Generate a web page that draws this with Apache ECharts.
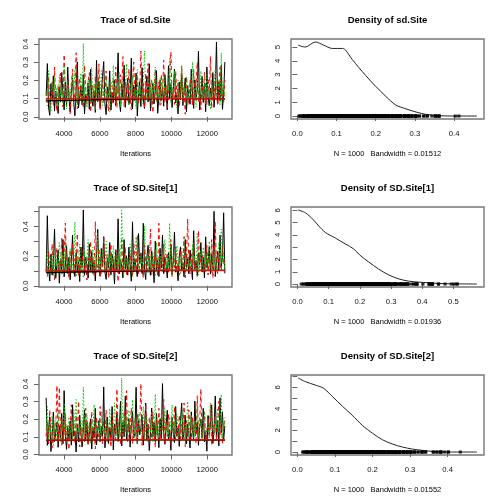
<!DOCTYPE html>
<html><head><meta charset="utf-8">
<script src="https://cdn.jsdelivr.net/npm/echarts@6/dist/echarts.min.js"></script>
<style>html,body{margin:0;padding:0;background:#fff}#c{width:504px;height:504px}</style>
</head><body><div id="c"></div>
<script>
// ---------- labels ----------
const traceTitles = ['Trace of sd.Site', 'Trace of SD.Site[1]', 'Trace of SD.Site[2]'];
const densTitles = ['Density of sd.Site', 'Density of SD.Site[1]', 'Density of SD.Site[2]'];
const densNotes = ['N = 1000   Bandwidth = 0.01512', 'N = 1000   Bandwidth = 0.01936', 'N = 1000   Bandwidth = 0.01552'];
const traceXName = 'Iterations';
const iterStart = 3000, iterStep = 67;
const traceXTicks = [4000, 6000, 8000, 10000, 12000];
const traceYTicks = [[0, 0.1, 0.2, 0.3, 0.4], [0, 0.1, 0.2, 0.3, 0.4, 0.5], [0, 0.1, 0.2, 0.3, 0.4]];
const traceYLabels = [[0, 0.1, 0.2, 0.3, 0.4], [0, 0.2, 0.4], [0, 0.1, 0.2, 0.3, 0.4]];
const densXTicks = [[0, 0.1, 0.2, 0.3, 0.4], [0, 0.1, 0.2, 0.3, 0.4, 0.5], [0, 0.1, 0.2, 0.3, 0.4]];
const densYTicks = [[0, 1, 2, 3, 4, 5], [0, 1, 2, 3, 4, 5, 6], [0, 1, 2, 3, 4, 5, 6, 7]];
const densYLabels = [[0, 1, 2, 3, 4, 5], [0, 1, 2, 3, 4, 5, 6], [0, 2, 4, 6]];

// ---------- chain samples ----------
const sdSite_chain1 = [.114,.293,.052,.008,.183,.091,.226,.031,.142,.069,.018,.163,.081,.244,.125,.038,.192,.057,.273,.104,.027,.131,.214,.077,.006,.152,.302,.049,.113,.171,.066,.233,.015,.122,.094,.186,.041,.262,.098,.058,.143,.024,.311,.083,.194,.047,.119,.221,.304,.072,.012,.164,.101,.253,.036,.134,.079,.203,.061,.148,.352,.088,.029,.181,.107,.284,.052,.139,.212,.068,.121,.323,.043,.174,.089,.241,.004,.128,.193,.056,.271,.097,.046,.153,.224,.082,.292,.033,.118,.184,.071,.142,.254,.019,.108,.202,.087,.161,.058,.232,.133,.038,.281,.103,.178,.051,.149,.263,.076,.121,.016,.191,.093,.243,.062,.139,.214,.027,.172,.108,.069,.262,.118,.046,.203,.091,.152,.361,.037,.131,.222,.079,.183,.028,.274,.112,.061,.158,.097,.243,.052,.141,.412,.073,.194,.086,.283,.041,.124,.302];
const sdSite_chain2 = [.083,.152,.224,.037,.121,.193,.062,.274,.103,.029,.172,.094,.241,.133,.054,.343,.112,.071,.203,.142,.017,.184,.262,.078,.131,.352,.043,.163,.214,.092,.124,.048,.283,.151,.067,.194,.243,.026,.113,.172,.061,.223,.134,.087,.291,.039,.152,.204,.076,.123,.252,.101,.031,.182,.143,.068,.212,.114,.273,.052,.161,.093,.232,.124,.331,.057,.192,.141,.082,.263,.112,.036,.171,.302,.094,.153,.221,.073,.132,.362,.104,.183,.048,.242,.121,.293,.081,.164,.203,.022,.143,.261,.089,.114,.192,.063,.233,.131,.312,.084,.171,.042,.123,.213,.358,.102,.154,.068,.251,.113,.182,.053,.134,.282,.091,.162,.014,.222,.121,.073,.204,.142,.058,.262,.111,.173,.301,.082,.133,.039,.193,.101,.244,.152,.068,.212,.123,.332,.047,.163,.092,.231,.134,.061,.182,.273,.114,.151,.083,.202];
const sdSite_chain3 = [.142,.061,.253,.102,.028,.183,.121,.214,.083,.162,.052,.233,.113,.174,.071,.284,.132,.043,.191,.104,.153,.082,.224,.121,.262,.063,.172,.094,.143,.241,.073,.403,.114,.162,.049,.203,.131,.082,.272,.101,.181,.038,.142,.223,.093,.124,.254,.061,.163,.112,.212,.084,.133,.027,.194,.151,.283,.103,.072,.173,.122,.243,.053,.141,.202,.092,.163,.292,.113,.064,.182,.131,.224,.081,.152,.044,.261,.123,.171,.102,.071,.204,.362,.143,.092,.233,.112,.161,.051,.193,.132,.274,.083,.152,.104,.213,.062,.173,.242,.121,.093,.182,.141,.322,.074,.163,.112,.252,.131,.048,.203,.101,.154,.283,.082,.172,.123,.221,.063,.142,.191,.093,.302,.114,.161,.052,.213,.134,.081,.252,.143,.102,.181,.073,.232,.121,.163,.039,.204,.113,.152,.263,.091,.132,.193,.062,.352,.124,.171,.103];

const SDSite1_chain1 = [.091,.473,.121,.032,.213,.072,.162,.382,.051,.143,.242,.018,.183,.102,.313,.061,.132,.271,.083,.192,.041,.153,.342,.112,.063,.224,.092,.171,.029,.262,.123,.512,.071,.193,.142,.052,.283,.101,.231,.084,.162,.033,.202,.381,.113,.064,.252,.131,.332,.093,.043,.182,.121,.292,.074,.213,.152,.012,.243,.103,.452,.081,.173,.132,.054,.312,.114,.203,.072,.261,.143,.031,.432,.092,.181,.123,.062,.353,.151,.222,.083,.422,.112,.043,.191,.273,.132,.071,.234,.162,.021,.302,.103,.172,.063,.253,.121,.342,.082,.193,.142,.053,.224,.111,.281,.074,.163,.362,.092,.131,.034,.202,.263,.104,.152,.061,.313,.123,.183,.082,.241,.134,.042,.372,.113,.171,.073,.223,.141,.292,.093,.192,.054,.331,.122,.163,.262,.081,.212,.114,.502,.063,.152,.233,.101,.342,.132,.191,.493,.084];
const SDSite1_chain2 = [.112,.063,.231,.152,.084,.283,.121,.042,.193,.252,.091,.172,.133,.322,.074,.213,.424,.102,.163,.051,.242,.123,.291,.082,.183,.141,.352,.063,.202,.113,.153,.272,.094,.171,.039,.223,.131,.302,.104,.192,.072,.433,.142,.113,.252,.061,.181,.124,.331,.093,.162,.212,.053,.132,.283,.101,.193,.084,.243,.141,.028,.203,.122,.312,.091,.173,.262,.071,.152,.112,.221,.134,.062,.292,.181,.103,.343,.082,.143,.212,.121,.052,.273,.163,.094,.231,.132,.383,.073,.182,.113,.252,.151,.064,.422,.102,.193,.131,.282,.083,.172,.223,.092,.141,.313,.061,.202,.123,.262,.104,.153,.072,.241,.183,.112,.332,.054,.191,.452,.132,.081,.213,.142,.293,.103,.162,.063,.372,.121,.184,.232,.091,.153,.114,.272,.073,.203,.131,.312,.052,.171,.432,.123,.082,.222,.151,.102,.263,.142,.193];
const SDSite1_chain3 = [.162,.243,.081,.132,.193,.112,.272,.063,.214,.141,.103,.292,.173,.072,.223,.134,.321,.092,.182,.121,.252,.083,.154,.113,.432,.062,.203,.142,.281,.101,.171,.052,.232,.133,.194,.312,.091,.163,.124,.262,.082,.213,.143,.352,.114,.181,.073,.242,.152,.103,.302,.131,.192,.061,.221,.122,.273,.161,.094,.203,.141,.252,.113,.511,.172,.083,.234,.132,.191,.102,.283,.153,.071,.212,.124,.332,.162,.093,.243,.142,.181,.112,.402,.134,.201,.082,.263,.151,.104,.222,.163,.064,.292,.121,.193,.143,.242,.091,.172,.313,.113,.202,.132,.423,.154,.073,.231,.182,.101,.272,.142,.191,.083,.253,.122,.321,.164,.103,.212,.131,.173,.092,.282,.141,.203,.114,.352,.072,.183,.234,.124,.262,.152,.091,.213,.133,.302,.171,.084,.192,.143,.241,.112,.181,.293,.122,.383,.161,.223,.102];

const SDSite2_chain1 = [.322,.052,.141,.213,.017,.102,.241,.073,.124,.182,.041,.163,.092,.232,.061,.362,.113,.029,.152,.083,.191,.053,.282,.104,.131,.014,.172,.071,.223,.122,.043,.142,.253,.081,.184,.062,.112,.202,.031,.153,.093,.262,.054,.133,.192,.072,.161,.103,.383,.038,.121,.213,.063,.152,.091,.272,.026,.173,.114,.232,.074,.143,.302,.048,.182,.101,.331,.082,.132,.203,.042,.162,.243,.093,.121,.381,.061,.193,.112,.151,.222,.053,.142,.292,.084,.171,.022,.123,.263,.102,.181,.071,.232,.134,.039,.203,.091,.402,.113,.058,.162,.251,.082,.141,.024,.212,.123,.068,.272,.103,.152,.046,.191,.292,.087,.132,.223,.061,.172,.114,.037,.242,.143,.082,.303,.121,.183,.052,.154,.201,.092,.262,.071,.131,.019,.221,.112,.172,.282,.063,.141,.332,.101,.193,.048,.321,.124,.242,.081,.162];
const SDSite2_chain2 = [.102,.183,.061,.252,.131,.038,.203,.092,.152,.392,.071,.381,.122,.053,.191,.113,.232,.082,.163,.027,.143,.282,.091,.172,.062,.221,.124,.302,.043,.151,.103,.192,.072,.262,.133,.051,.182,.114,.243,.084,.161,.032,.212,.123,.093,.272,.142,.061,.193,.101,.252,.073,.134,.181,.042,.223,.112,.162,.083,.372,.121,.202,.054,.153,.092,.241,.131,.362,.071,.184,.113,.263,.063,.142,.192,.081,.232,.124,.161,.402,.052,.173,.102,.283,.132,.074,.212,.153,.091,.242,.122,.041,.193,.111,.262,.082,.163,.134,.312,.063,.182,.103,.231,.143,.054,.202,.121,.272,.084,.152,.114,.223,.072,.171,.132,.292,.043,.191,.103,.253,.141,.082,.213,.124,.162,.061,.333,.112,.183,.371,.093,.152,.242,.073,.131,.203,.101,.282,.052,.172,.122,.232,.081,.163,.302,.113,.192,.064,.143,.212];
const SDSite2_chain3 = [.132,.273,.083,.172,.114,.221,.052,.153,.192,.091,.242,.123,.074,.203,.141,.292,.102,.162,.063,.213,.121,.182,.084,.253,.133,.312,.093,.151,.112,.194,.072,.382,.143,.101,.224,.122,.173,.061,.202,.134,.283,.092,.152,.113,.181,.073,.242,.131,.164,.103,.212,.124,.082,.262,.143,.171,.112,.293,.091,.154,.193,.071,.132,.434,.102,.223,.141,.182,.083,.252,.121,.163,.312,.094,.202,.133,.062,.231,.152,.113,.184,.272,.081,.142,.213,.104,.161,.122,.243,.073,.151,.342,.113,.192,.092,.134,.222,.171,.084,.262,.123,.162,.101,.213,.142,.282,.072,.183,.131,.232,.093,.152,.191,.114,.252,.083,.172,.143,.302,.102,.163,.222,.121,.071,.193,.132,.272,.103,.151,.201,.082,.174,.243,.112,.141,.182,.094,.292,.133,.162,.104,.212,.153,.262,.121,.181,.341,.092,.142,.193];

// ---------- smoothed (lowess) trend per chain ----------
const smoothIters = [3000, 5500, 8000, 10500, 12990];
const sdSite_smooth = [[.088, .093, .098, .100, .100], [.100, .101, .102, .100, .099], [.098, .100, .101, .101, .100]];
const SDSite1_smooth = [[.090, .095, .100, .103, .104], [.102, .104, .106, .105, .103], [.100, .103, .105, .106, .104]];
const SDSite2_smooth = [[.080, .082, .083, .083, .082], [.082, .083, .084, .084, .083], [.083, .084, .084, .083, .083]];

// ---------- density curves ----------
const sdSite_densX = [0.002, 0.02, 0.046, 0.067, 0.089, 0.115, 0.123, 0.14, 0.174, 0.2, 0.226, 0.251, 0.277, 0.303, 0.328, 0.362, 0.397, 0.458];
const sdSite_densY = [5.14, 5.0, 5.37, 5.14, 4.9, 4.9, 4.78, 4.1, 2.95, 2.15, 1.42, 0.8, 0.52, 0.29, 0.12, 0.03, 0.0, 0.0];
const SDSite1_densX = [0.002, 0.025, 0.052, 0.068, 0.089, 0.121, 0.153, 0.18, 0.2, 0.228, 0.26, 0.291, 0.323, 0.355, 0.387, 0.42, 0.45, 0.49, 0.575];
const SDSite1_densY = [6.03, 5.8, 5.2, 4.73, 4.2, 3.75, 3.27, 2.86, 2.35, 1.8, 1.22, 0.76, 0.43, 0.24, 0.16, 0.1, 0.05, 0.02, 0.0];
const SDSite2_densX = [0.002, 0.021, 0.048, 0.07, 0.093, 0.12, 0.146, 0.173, 0.2, 0.227, 0.254, 0.28, 0.307, 0.334, 0.36, 0.396, 0.478];
const SDSite2_densY = [6.86, 6.52, 6.2, 5.9, 5.15, 4.24, 3.41, 2.47, 1.74, 1.13, 0.73, 0.46, 0.27, 0.15, 0.06, 0.0, 0.0];

// ---------- assembly ----------
const traceChains = [[sdSite_chain1, sdSite_chain2, sdSite_chain3], [SDSite1_chain1, SDSite1_chain2, SDSite1_chain3], [SDSite2_chain1, SDSite2_chain2, SDSite2_chain3]];
const traceSmooth = [sdSite_smooth, SDSite1_smooth, SDSite2_smooth];
const densCurves = [[sdSite_densX, sdSite_densY], [SDSite1_densX, SDSite1_densY], [SDSite2_densX, SDSite2_densY]];

const FONT = '"Liberation Sans", Arial, Helvetica, sans-serif';
const chainColors = ['#000000', '#FF0000', '#00CD00'];
const chainDash = ['solid', [4, 3], [1.5, 2]];
const smoothOrder = [2, 0, 1];
const BOX = {l: 39, t: 39, w: 193, h: 80, dx: 252, dy: 168};

function pad(lo, hi) { const d = (hi - lo) * 0.04; return [lo - d, hi + d]; }
function fmt1(v) { return v.toFixed(1); }
function fmt0(v) { return String(Math.round(v)); }

const grids = [], xAxes = [], yAxes = [], series = [], graphics = [];

function addGrid(r, c) {
  grids.push({left: BOX.l + BOX.dx * c, top: BOX.t + BOX.dy * r, width: BOX.w, height: BOX.h,
    show: true, borderColor: '#777', borderWidth: 1.4, backgroundColor: 'transparent',
    containLabel: false, outerBoundsMode: 'none'});
  return grids.length - 1;
}
function axis(gi, range, ticks, labels, fmt, isY) {
  return {type: 'value', gridIndex: gi, min: range[0], max: range[1], scale: true,
    axisLine: {show: false}, splitLine: {show: false},
    axisTick: {show: true, inside: false, length: 5, customValues: ticks, lineStyle: {color: '#666', width: 1}},
    axisLabel: {show: true, customValues: labels, formatter: fmt, fontSize: 7.7, color: '#111', fontFamily: FONT,
      margin: isY ? 9 : 11, rotate: isY ? 90 : 0, hideOverlap: false}};
}
function addText(x, y, text, size, bold) {
  graphics.push({type: 'text', x: x, y: y, silent: true,
    style: {text: text, align: 'center', verticalAlign: 'middle', fill: '#000',
      font: (bold ? 'bold ' : '') + size + 'px ' + FONT}});
}

for (let r = 0; r < 3; r++) {
  // ---- trace panel ----
  const chains = traceChains[r];
  const n = chains[0].length;
  const iters = chains[0].map((_, i) => iterStart + i * iterStep);
  const all = [].concat(...chains);
  const gi = addGrid(r, 0);
  xAxes.push(axis(gi, pad(iters[0], iters[n - 1]), traceXTicks, traceXTicks, fmt0, false));
  yAxes.push(axis(gi, pad(Math.min(...all), Math.max(...all)), traceYTicks[r], traceYLabels[r], fmt1, true));
  const ai = xAxes.length - 1;
  chains.forEach((ch, k) => {
    series.push({type: 'line', xAxisIndex: ai, yAxisIndex: ai, showSymbol: false, symbol: 'none', silent: true,
      data: ch.map((v, i) => [iters[i], v]),
      lineStyle: {color: chainColors[k], width: 1, type: chainDash[k]}, z: 2 + k});
  });
  smoothOrder.forEach((k, j) => {
    const sm = traceSmooth[r][k];
    series.push({type: 'line', xAxisIndex: ai, yAxisIndex: ai, showSymbol: false, symbol: 'none', silent: true,
      smooth: true, data: sm.map((v, i) => [smoothIters[i], v]),
      lineStyle: {color: chainColors[k], width: 1.3}, z: 10 + j});
  });
  const cx0 = BOX.l + BOX.w / 2;
  addText(cx0, 20 + BOX.dy * r, traceTitles[r], 9.5, true);
  addText(cx0, 154 + BOX.dy * r, traceXName, 7.5, false);

  // ---- density panel ----
  const [dx, dy] = densCurves[r];
  const gj = addGrid(r, 1);
  xAxes.push(axis(gj, pad(dx[0], dx[dx.length - 1]), densXTicks[r], densXTicks[r], fmt1, false));
  yAxes.push(axis(gj, pad(0, Math.max(...dy)), densYTicks[r], densYLabels[r], fmt0, true));
  const aj = xAxes.length - 1;
  series.push({type: 'line', xAxisIndex: aj, yAxisIndex: aj, showSymbol: false, symbol: 'none', silent: true,
    smooth: 0.3, data: dx.map((x, i) => [x, dy[i]]), lineStyle: {color: '#222', width: 1}, z: 3});
  series.push({type: 'scatter', xAxisIndex: aj, yAxisIndex: aj, silent: true, symbol: 'rect', symbolSize: [3.2, 3],
    data: all.map(v => [v, 0]), itemStyle: {color: '#000'}, z: 4});
  const cx1 = BOX.l + BOX.dx + BOX.w / 2;
  addText(cx1, 20 + BOX.dy * r, densTitles[r], 9.5, true);
  addText(cx1, 154 + BOX.dy * r, densNotes[r], 7.5, false);
}

const chart = echarts.init(document.getElementById('c'), null, {renderer: 'canvas'});
chart.setOption({animation: false, backgroundColor: '#fff', grid: grids, xAxis: xAxes, yAxis: yAxes, series: series, graphic: graphics});
</script>
</body></html>
